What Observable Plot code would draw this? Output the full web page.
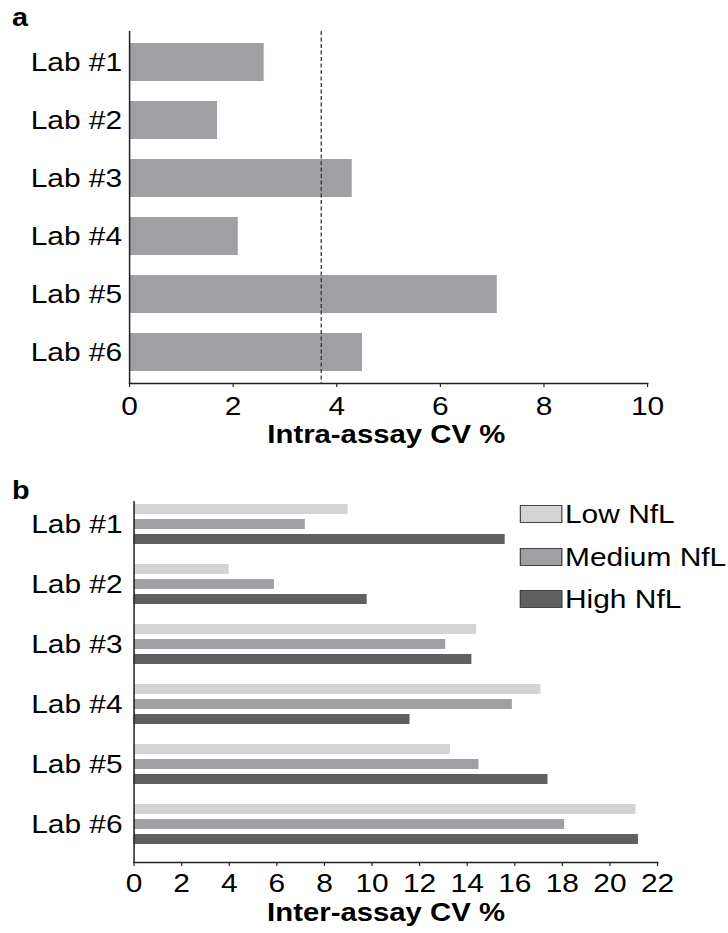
<!DOCTYPE html>
<html>
<head>
<meta charset="utf-8">
<script src="https://cdn.jsdelivr.net/npm/d3@7"></script>
<script src="https://cdn.jsdelivr.net/npm/@observablehq/plot@0.6"></script>
<style>
  html, body { margin: 0; padding: 0; background: #fff; }
  #wrap { position: relative; height: 933px; transform-origin: 0 0; font-family: "Liberation Sans", Arial, sans-serif; color: #000; }
  .pl { position: absolute; left: 0; }
  .tag { position: absolute; font-weight: bold; font-size: 25px; line-height: 25px; }
  .leg { position: absolute; font-size: 26px; line-height: 26px; white-space: nowrap; }
  .sw { position: absolute; box-sizing: border-box; border: 1px solid #444; }
</style>
</head>
<body>
<div id="wrap"></div>
<script>
// ---------- data ----------
const labs = ["Lab #1", "Lab #2", "Lab #3", "Lab #4", "Lab #5", "Lab #6"];
const intraCV = [2.6, 1.7, 4.3, 2.1, 7.1, 4.5];
const intraMean = [3.7];
const intraTicks = [0, 2, 4, 6, 8, 10];

const levels = ["Low NfL", "Medium NfL", "High NfL"];
const interLow = [9.0, 4.0, 14.4, 17.1, 13.3, 21.1];
const interMedium = [7.2, 5.9, 13.1, 15.9, 14.5, 18.1];
const interHigh = [15.6, 9.8, 14.2, 11.6, 17.4, 21.2];
const interTicks = [0, 2, 4, 6, 8, 10, 12, 14, 16, 18, 20, 22];
const levelColors = ["#d4d4d4", "#a0a0a4", "#606060"];

const titleA = "Intra-assay CV %";
const titleB = "Inter-assay CV %";

// ---------- layout (horizontal stretch like the reference) ----------
const K = 1.15;
const W = 728 / K;
const wrap = document.getElementById("wrap");
wrap.style.width = W + "px";
wrap.style.transform = `scaleX(${K})`;

const font = {fontFamily: "'Liberation Sans', Arial, sans-serif", fontSize: "26px", color: "#000", background: "transparent", overflow: "visible"};

// ---------- panel a ----------
const dataA = labs.map((lab, i) => ({lab, cv: intraCV[i]}));
const plotA = Plot.plot({
  width: W,
  height: 460,
  marginTop: 31,
  marginBottom: 77,
  marginLeft: 129 / K,
  marginRight: W - 647 / K,
  style: font,
  x: {domain: [0, 10]},
  y: {domain: labs, paddingInner: 0.35, paddingOuter: 0.175},
  marks: [
    Plot.barX(dataA, {x: "cv", y: "lab", fill: "#a0a0a4"}),
    Plot.ruleX(intraMean, {stroke: "#333", strokeWidth: 1.1, strokeDasharray: "4,2.5"}),
    Plot.ruleX([0], {stroke: "#222", strokeWidth: 1.3}),
    Plot.frame({anchor: "bottom", stroke: "#222", strokeWidth: 1.5}),
    Plot.axisX({ticks: intraTicks, tickSize: 4, tickPadding: 9.5, label: null, stroke: "#222"}),
    Plot.axisY({tickSize: 0, tickPadding: 6.5, label: null}),
    Plot.text([titleA], {text: d => d, frameAnchor: "bottom", dy: 60, dx: -2, lineAnchor: "bottom", fontWeight: "bold", fontSize: 25.5})
  ]
});
plotA.classList.add("pl");
plotA.style.top = "0px";
wrap.appendChild(plotA);

// ---------- panel b ----------
const interSeries = [interLow, interMedium, interHigh];
const dataB = [];
labs.forEach((lab, i) => levels.forEach((level, j) => {
  dataB.push({lab, level, key: lab + "|" + level, cv: interSeries[j][i]});
}));
const keyDomain = labs.flatMap(lab => [...levels.map(l => lab + "|" + l), lab + "|gap"]);

const plotB = Plot.plot({
  width: W,
  height: 473,
  marginTop: 41,
  marginBottom: 71,
  marginLeft: 133.5 / K,
  marginRight: W - 657 / K,
  style: font,
  x: {domain: [0, 22]},
  y: {domain: keyDomain, paddingInner: 1 / 3, paddingOuter: 1 / 6},
  color: {domain: levels, range: levelColors},
  marks: [
    Plot.barX(dataB, {x: "cv", y: "key", fill: "level"}),
    Plot.ruleX([0], {stroke: "#222", strokeWidth: 1.3}),
    Plot.frame({anchor: "bottom", stroke: "#222", strokeWidth: 1.5}),
    Plot.axisX({ticks: interTicks, tickSize: 4, tickPadding: 7, label: null, stroke: "#222"}),
    Plot.axisY({ticks: labs.map(l => l + "|" + levels[1]), tickFormat: d => d.split("|")[0], tickSize: 0, tickPadding: 10, label: null}),
    Plot.text([titleB], {text: d => d, frameAnchor: "bottom", dy: 59, dx: -8.5, lineAnchor: "bottom", fontWeight: "bold", fontSize: 25.5})
  ]
});
plotB.classList.add("pl");
plotB.style.top = "460px";
wrap.appendChild(plotB);

// ---------- panel tags ----------
function tag(t, left, baseline) {
  const d = document.createElement("div");
  d.className = "tag";
  d.textContent = t;
  d.style.left = left + "px";
  d.style.top = (baseline - 21.2) + "px";
  wrap.appendChild(d);
}
tag("a", 12 / K, 26);
tag("b", 12 / K, 499);

// ---------- legend ----------
const swTops = [505, 548, 590];
levels.forEach((lvl, j) => {
  const s = document.createElement("div");
  s.className = "sw";
  s.style.left = (520 / K) + "px";
  s.style.top = swTops[j] + "px";
  s.style.width = (42 / K) + "px";
  s.style.height = "18px";
  s.style.background = levelColors[j];
  wrap.appendChild(s);
  const t = document.createElement("div");
  t.className = "leg";
  t.textContent = lvl;
  t.style.left = (565 / K) + "px";
  t.style.top = (swTops[j] + 18.5 - 22.1) + "px";
  wrap.appendChild(t);
});
</script>
</body>
</html>
